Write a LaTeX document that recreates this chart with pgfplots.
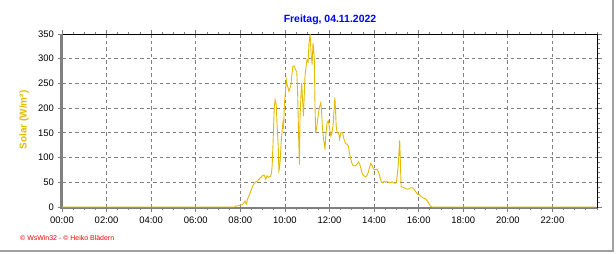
\documentclass[border=0pt]{standalone}
\usepackage{fontspec}
\setmainfont{Liberation Sans}
\usepackage{pgfplots}
\pgfplotsset{compat=1.18}
\definecolor{solar}{RGB}{226,186,0}
\definecolor{titleblue}{RGB}{0,0,255}
\definecolor{gridgray}{RGB}{128,128,128}
\definecolor{axgray}{RGB}{128,128,128}
\definecolor{framegray}{RGB}{160,160,160}
\definecolor{cred}{RGB}{255,0,0}
\begin{document}
\begin{tikzpicture}[x=1bp,y=1bp]
\path[use as bounding box] (0,0) rectangle (616,253);
\draw[framegray, line width=2bp] (0,1.8) -- (612.5,1.8) -- (612.5,253);
\node[anchor=base, text=titleblue, font=\fontsize{10.5}{12}\selectfont\bfseries] at (330,231) {Freitag, 04.11.2022};
\node[rotate=90, text=solar, font=\fontsize{10}{12}\selectfont\bfseries] at (24,133) {Solar (W/m²)};
\node[anchor=west, text=cred, font=\fontsize{7}{8}\selectfont, inner sep=0pt] at (20,14.5) {© WsWin32 - © Heiko Blädern};
\begin{axis}[
  at={(62bp,46bp)}, anchor=south west, scale only axis,
  width=535bp, height=173bp,
  xmin=0, xmax=24, ymin=0, ymax=350,
  xtick={0,2,...,22},
  xticklabels={00:00,02:00,04:00,06:00,08:00,10:00,12:00,14:00,16:00,18:00,20:00,22:00},
  minor xtick={0,0.5,...,24},
  ytick={0,50,...,350},
  minor ytick={0,10,...,350},
  tick align=outside,
  major tick length=4.5bp, minor tick length=2.5bp,
  every tick/.style={axgray, line width=0.8bp},
  grid=major,
  major grid style={gridgray, line width=0.8bp, dash pattern=on 3.5bp off 3bp},
  axis line style={black, line width=0.8bp},
  tick label style={font=\fontsize{9.5}{11}\selectfont},
  xticklabel style={yshift=-2bp},
  /pgf/number format/assume math mode=true,
  clip=false,
]
\draw[axgray, line width=2.2bp] ([yshift=-0.6bp]axis cs:24,0) -- ([xshift=-0.6bp,yshift=-0.6bp]axis cs:0,0) -- ([xshift=-0.6bp]axis cs:0,350);
\addplot[solar, line width=0.9bp] coordinates {
(0,0) (7.74,0) (7.80,2) (7.95,3) (8.10,5) (8.15,8) (8.21,12) (8.27,6) (8.33,17) (8.40,24) (8.48,34) (8.55,42) (8.63,48) (8.70,51) (8.78,53) (8.85,57) (8.93,60) (9.00,64) (9.08,64) (9.14,56) (9.20,63) (9.26,60) (9.35,62) (9.40,69) (9.43,86) (9.47,133) (9.52,200) (9.56,217) (9.61,207) (9.65,163) (9.70,123) (9.73,73) (9.76,79) (9.79,96) (9.83,130) (9.88,157) (9.91,170) (9.94,157) (9.97,204) (10.02,231) (10.06,258) (10.09,248) (10.14,241) (10.18,234) (10.23,241) (10.27,248) (10.32,271) (10.36,285) (10.42,285) (10.47,278) (10.53,274) (10.57,231) (10.62,133) (10.65,86) (10.68,184) (10.72,227) (10.75,251) (10.78,227) (10.83,184) (10.86,217) (10.90,264) (10.95,285) (10.99,298) (11.04,294) (11.08,332) (11.13,350) (11.17,312) (11.22,288) (11.26,332) (11.29,318) (11.32,298) (11.35,204) (11.38,150) (11.43,163) (11.47,177) (11.52,194) (11.56,204) (11.61,211) (11.64,197) (11.68,163) (11.73,137) (11.77,127) (11.80,116) (11.83,143) (11.89,170) (11.95,174) (12.00,160) (12.06,143) (12.11,150) (12.17,170) (12.21,201) (12.24,221) (12.27,197) (12.30,163) (12.35,150) (12.41,150) (12.45,137) (12.51,150) (12.59,150) (12.65,137) (12.73,128) (12.79,127) (12.85,123) (12.89,110) (12.94,100) (13.00,89) (13.06,84) (13.12,83) (13.18,84) (13.24,87) (13.30,91) (13.36,86) (13.42,76) (13.48,66) (13.55,63) (13.61,61) (13.67,63) (13.73,69) (13.79,79) (13.85,88) (13.91,84) (13.97,77) (14.03,75) (14.09,76) (14.15,76) (14.21,69) (14.27,59) (14.33,50) (14.39,49) (14.45,52) (14.52,50) (14.58,52) (14.64,50) (14.70,49) (14.76,50) (14.82,51) (14.88,49) (14.94,48) (15.00,50) (15.05,69) (15.09,89) (15.12,113) (15.15,135) (15.18,89) (15.21,42) (15.27,40) (15.35,39) (15.42,37) (15.50,36) (15.58,37) (15.65,39) (15.73,39) (15.79,36) (15.85,32) (15.91,28) (15.97,25) (16.03,25) (16.09,22) (16.15,20) (16.21,18) (16.30,17) (16.36,14) (16.42,10) (16.48,5) (16.55,1) (16.61,0) (23.95,0)
};
\end{axis}
\end{tikzpicture}
\end{document}
